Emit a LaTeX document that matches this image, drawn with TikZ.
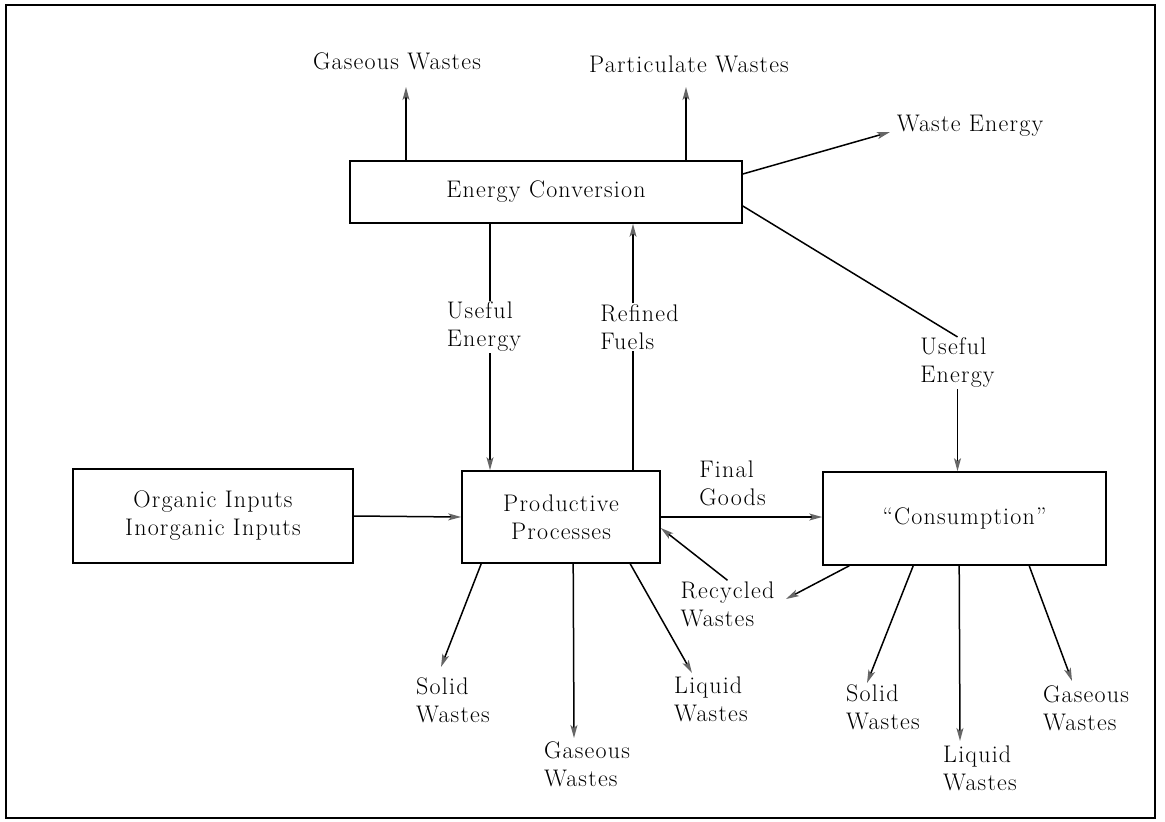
\documentclass[tikz,border=0pt]{standalone}
\usepackage{fontspec}
\setmainfont[LetterSpace=5]{Latin Modern Roman}
\usetikzlibrary{arrows.meta}
\begin{document}
\begin{tikzpicture}[x=1pt,y=-1pt,
  every node/.style={font=\fontsize{24}{28}\selectfont},
  box/.style={draw,line width=1.6pt,inner sep=0pt,align=center},
  lbl/.style={align=left,inner sep=1pt},
  plain/.style={line width=1.5pt},
  flow/.style={line width=1.5pt,-{Stealth[length=13pt,width=7pt,inset=3pt,color=black!60]}}]
\useasboundingbox (0,0) rectangle (1165,822);
\draw[line width=1.2pt] (6,5) rectangle (1155,818);
% boxes
\node[box,minimum width=392pt,minimum height=62pt] (ec) at (546,192) {Energy Conversion};
\node[box,minimum width=280pt,minimum height=94pt] (org) at (213,516) {Organic Inputs\\Inorganic Inputs};
\node[box,minimum width=198pt,minimum height=92pt] (pp) at (561,517) {Productive\\Processes};
\node[box,minimum width=283pt,minimum height=93pt] (con) at (964.5,518.5) {“Consumption”};
% labels
\node[lbl] (gw1) at (397,61) {Gaseous Wastes};
\node[lbl] (pw) at (689,64) {Particulate Wastes};
\node[lbl] (we) at (970,126) {Waste Energy};
\node[lbl] (ue1) at (484,327) {Useful\\Energy};
\node[lbl] (rf) at (639.5,327) {Refined\\Fuels};
\node[lbl] (ue2) at (957.5,363) {Useful\\Energy};
\node[lbl] (fg) at (732.5,483) {Final\\Goods};
\node[lbl] (rw) at (727.5,604) {Recycled\\Wastes};
\node[lbl] (sw1) at (453,700) {Solid\\Wastes};
\node[lbl] (gw2) at (587,764) {Gaseous\\Wastes};
\node[lbl] (lw1) at (711,699) {Liquid\\Wastes};
\node[lbl] (sw2) at (883,707) {Solid\\Wastes};
\node[lbl] (lw2) at (980,768) {Liquid\\Wastes};
\node[lbl] (gw3) at (1086,708) {Gaseous\\Wastes};
% free ends
\coordinate (gwt) at (406,87);
\coordinate (pwt) at (686,87);
\coordinate (wet) at (890,132);
\coordinate (uex) at (490,0);
\coordinate (rfx) at (633,0);
\coordinate (rwt) at (786,599);
\coordinate (t1) at (441,667);
\coordinate (t2) at (574,738);
\coordinate (t3) at (692,673);
\coordinate (t4) at (867,683);
\coordinate (t5) at (960,741);
\coordinate (t6) at (1072,681);
% connectors
\draw[flow] (ec.north -| gwt) -- (gwt);
\draw[flow] (ec.north -| pwt) -- (pwt);
\draw[flow] ([yshift=18pt]ec.east) -- (wet);
\draw[plain] ([yshift=-14pt]ec.east) -- (ue2.north);
\draw[flow] (ue2.south) -- (ue2.south |- con.north);
\draw[plain] (ec.south -| uex) -- (ue1.north -| uex);
\draw[flow] (ue1.south -| uex) -- (pp.north -| uex);
\draw[plain] (pp.north -| rfx) -- (rf.south -| rfx);
\draw[flow] (rf.north -| rfx) -- (ec.south -| rfx);
\draw[flow] (org.east) -- (pp.west);
\draw[flow] (pp.east) -- (pp.east -| con.west);
\draw[flow] (rw.north) -- ([yshift=-11pt]pp.east);
\draw[flow] ([xshift=27pt]con.south west) -- (rwt);
\draw[flow] ([xshift=20pt]pp.south west) -- (t1);
\draw[flow] ([xshift=112pt]pp.south west) -- (t2);
\draw[flow] ([xshift=169pt]pp.south west) -- (t3);
\draw[flow] ([xshift=91pt]con.south west) -- (t4);
\draw[flow] ([xshift=137pt]con.south west) -- (t5);
\draw[flow] ([xshift=207pt]con.south west) -- (t6);
\end{tikzpicture}
\end{document}
